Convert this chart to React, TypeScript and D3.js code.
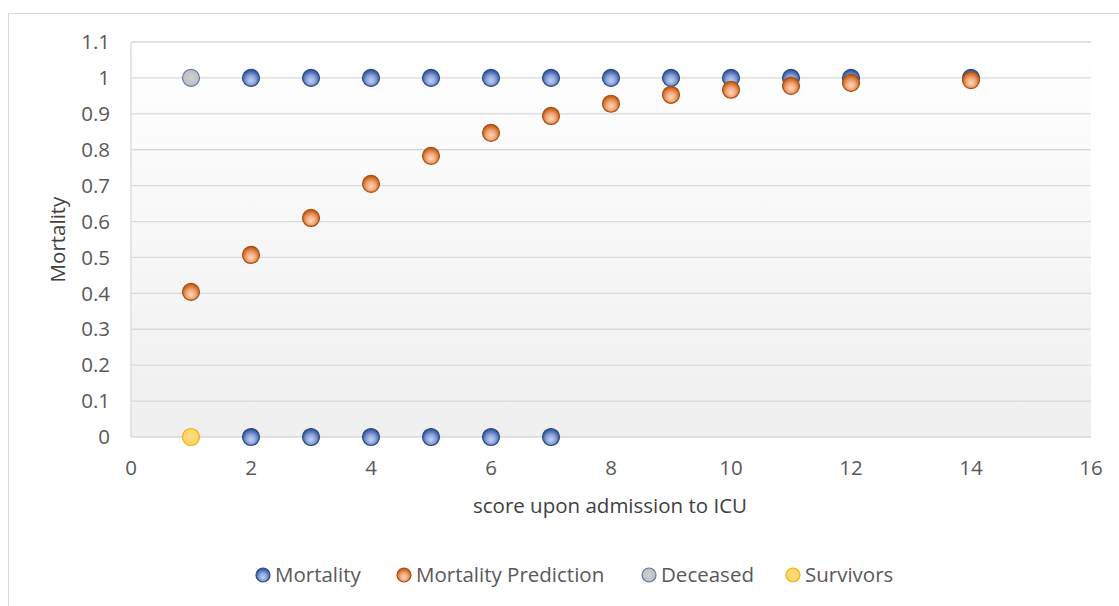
import React from "react";
import * as d3 from "d3";

const scores = [1, 2, 3, 4, 5, 6, 7, 8, 9, 10, 11, 12, 14];
const predicted = [0.404, 0.507, 0.61, 0.705, 0.783, 0.847, 0.894, 0.928, 0.953, 0.967, 0.978, 0.986, 0.994];
const diedScores = [2, 3, 4, 5, 6, 7, 8, 9, 10, 11, 12, 14];
const survivedScores = [2, 3, 4, 5, 6, 7];
const deceased = [[1, 1]];
const survivors = [[1, 0]];
const xTicks = [0, 2, 4, 6, 8, 10, 12, 14, 16];
const yTicks = [0, 0.1, 0.2, 0.3, 0.4, 0.5, 0.6, 0.7, 0.8, 0.9, 1, 1.1];
const legendItems = ["Mortality", "Mortality Prediction", "Deceased", "Survivors"];

const width = 1119;
const height = 606;
const font = "'Open Sans', sans-serif";
const fs = 20.5;

const x = d3.scaleLinear().domain([0, 16]).range([131, 1091]);
const y = d3.scaleLinear().domain([0, 1.1]).range([437, 42]);

const strokes = { gBlue: "#2a4a86", gOrange: "#a94e12", gGray: "#5b79ad", gYellow: "#f0b400" };

const Dot = ({ cx, cy, fill, r = 8.5 }) => (
  <circle cx={cx} cy={cy} r={r} fill={`url(#${fill})`} stroke={strokes[fill]} strokeWidth={1.2} />
);

const mortality = [
  ...diedScores.map((s) => [s, 1]),
  ...survivedScores.map((s) => [s, 0]),
];

// legend marker centres
const legendX = [263, 404, 649, 793];
const legendFills = ["gBlue", "gOrange", "gGray", "gYellow"];

export default function App() {
  return (
    <svg width={width} height={height} style={{ position: "absolute", left: 0, top: 0 }}>
      <defs>
        <linearGradient id="bg" x1="0" y1="0" x2="0" y2="1">
          <stop offset="0" stopColor="#ffffff" />
          <stop offset="1" stopColor="#efefef" />
        </linearGradient>
        <radialGradient id="gBlue" cx="50%" cy="58%" r="55%" fx="50%" fy="68%">
          <stop offset="0" stopColor="#c3d2f2" />
          <stop offset="0.5" stopColor="#8aa3dc" />
          <stop offset="1" stopColor="#2c4f94" />
        </radialGradient>
        <radialGradient id="gOrange" cx="50%" cy="58%" r="55%" fx="50%" fy="68%">
          <stop offset="0" stopColor="#fcd9c0" />
          <stop offset="0.5" stopColor="#f2a676" />
          <stop offset="1" stopColor="#bd5812" />
        </radialGradient>
        <radialGradient id="gGray" cx="50%" cy="50%" r="55%">
          <stop offset="0" stopColor="#d0d0d0" />
          <stop offset="1" stopColor="#bcbcbc" />
        </radialGradient>
        <radialGradient id="gYellow" cx="50%" cy="50%" r="55%">
          <stop offset="0" stopColor="#ffde8a" />
          <stop offset="1" stopColor="#ffd060" />
        </radialGradient>
      </defs>
      <rect x={0} y={0} width={width} height={height} fill="#fff" />
      <rect x={8.5} y={13.5} width={width} height={height} fill="none" stroke="#d9d9d9" />
      <rect x={x(0)} y={y(1.1)} width={x(16) - x(0)} height={y(0) - y(1.1)} fill="url(#bg)" />
      {yTicks.map((t) => (
        <g key={t}>
          <line x1={x(0)} x2={x(16)} y1={y(t)} y2={y(t)} stroke="#d9d9d9" strokeWidth={1.3} />
          <text x={110} y={y(t)} dy="0.35em" textAnchor="end" fontFamily={font} fontSize={fs} fill="#595959">
            {d3.format("")(t)}
          </text>
        </g>
      ))}
      <line x1={x(0)} x2={x(0)} y1={y(1.1)} y2={y(0)} stroke="#d9d9d9" strokeWidth={1.3} />
      {xTicks.map((t) => (
        <text key={t} x={x(t)} y={468} dy="0.35em" textAnchor="middle" fontFamily={font} fontSize={fs} fill="#595959">
          {t}
        </text>
      ))}
      <text transform={`translate(58,${y(0.55)}) rotate(-90)`} textAnchor="middle" dy="0.35em" fontFamily={font} fontSize={fs} fill="#404040">
        Mortality
      </text>
      <text x={610} y={506} dy="0.35em" textAnchor="middle" fontFamily={font} fontSize={fs} fill="#404040">
        score upon admission to ICU
      </text>
      {mortality.map(([s, v], i) => (
        <Dot key={"m" + i} cx={x(s)} cy={y(v)} fill="gBlue" />
      ))}
      {scores.map((s, i) => (
        <Dot key={"p" + i} cx={x(s)} cy={y(predicted[i])} fill="gOrange" />
      ))}
      {deceased.map(([s, v], i) => (
        <Dot key={"d" + i} cx={x(s)} cy={y(v)} fill="gGray" />
      ))}
      {survivors.map(([s, v], i) => (
        <Dot key={"s" + i} cx={x(s)} cy={y(v)} fill="gYellow" />
      ))}
      {legendItems.map((name, i) => (
        <g key={name}>
          <Dot cx={legendX[i]} cy={575} r={7} fill={legendFills[i]} />
          <text x={legendX[i] + 12} y={575} dy="0.35em" fontFamily={font} fontSize={fs} fill="#595959">
            {name}
          </text>
        </g>
      ))}
    </svg>
  );
}
